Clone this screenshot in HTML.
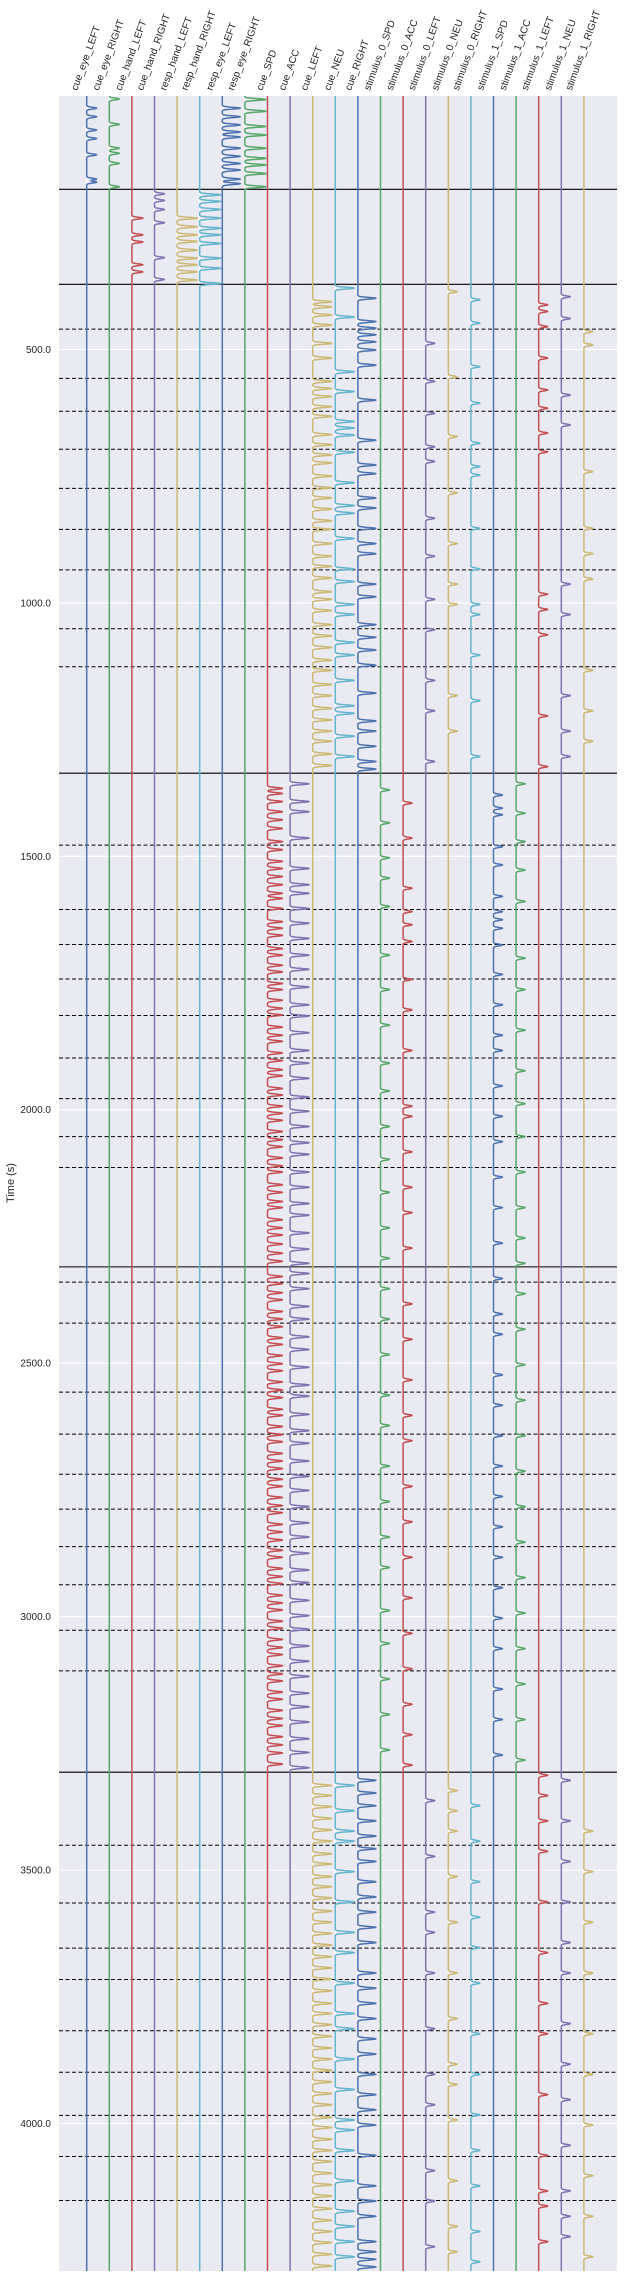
<!DOCTYPE html>
<html><head><meta charset="utf-8">
<style>
html,body{margin:0;padding:0;background:#fff;}
svg{display:block;font-family:"Liberation Sans",sans-serif;}
</style></head>
<body>
<svg id="chart" width="624" height="2278" viewBox="0 0 624 2278" xmlns="http://www.w3.org/2000/svg">
<rect x="59" y="96" width="558" height="2175" fill="#EAEAF2"/>
<g id="grid"></g>
<g id="hlines"></g>
<g id="traces"></g>
<g id="xlabels"></g>
<g id="ylabels"></g>
<text x="0" y="0" transform="translate(14,1183) rotate(-90)" text-anchor="middle" font-size="11" fill="#262626">Time (s)</text>
</svg>
<script>
const columns = ["cue_eye_LEFT","cue_eye_RIGHT","cue_hand_LEFT","cue_hand_RIGHT","resp_hand_LEFT","resp_hand_RIGHT","resp_eye_LEFT","resp_eye_RIGHT","cue_SPD","cue_ACC","cue_LEFT","cue_NEU","cue_RIGHT","stimulus_0_SPD","stimulus_0_ACC","stimulus_0_LEFT","stimulus_0_NEU","stimulus_0_RIGHT","stimulus_1_SPD","stimulus_1_ACC","stimulus_1_LEFT","stimulus_1_NEU","stimulus_1_RIGHT"];
const yTicks = [500,1000,1500,2000,2500,3000,3500,4000];
const blockBoundaries = [184,371.5,1336,2310,3307];
const runBoundaries = [460,557,622,697,774,855,935,1051,1126,1478,1605,1674,1742,1814,1898,1978,2053,2114,2340,2421,2557,2640,2719,2788,2862,2937,3027,3107,3451,3565,3654,3716,3817,3899,3984,4065,4152];
const amplitudes = [10,10,11,10,20,21,18,21,15,19,19,19,18,9,9,9,9,9,9,9,9,9,9];

const cue_eye_LEFT = [21,38,64,81,113,161,167];
const cue_eye_RIGHT = [3,53,100,110,130,176];
const cue_hand_LEFT = [238,271,285,330,344];
const cue_hand_RIGHT = [190,203,221,247,316,359];
const resp_hand_LEFT = [238,255,271,284,301,317,330,344,360];
const resp_hand_RIGHT = [192,205,221,238,258,271,288,317,337,367];
const resp_eye_LEFT = [21,38,54,68,78,100,116,130,143,161,170];
const resp_eye_RIGHT = [4,27,57,74,100,120,133,150,176];
const cue_SPD = [1363,1373,1389,1409,1425,1442,1468,1484,1507,1521,1537,1553,1570,1580,1600,1626,1639,1653,1679,1692,1712,1725,1748,1760,1781,1797,1810,1834,1850,1862,1885,1900,1918,1930,1955,1968,1990,2004,2018,2040,2056,2070,2092,2108,2120,2145,2160,2178,2190,2214,2230,2244,2262,2280,2296,2326,2340,2358,2372,2395,2410,2425,2447,2460,2482,2498,2512,2534,2550,2565,2588,2600,2622,2638,2652,2675,2690,2705,2726,2740,2762,2778,2792,2815,2830,2846,2866,2880,2902,2918,2932,2955,2970,2984,3006,3020,3042,3058,3072,3094,3110,3124,3146,3160,3182,3198,3212,3234,3250,3266,3288];
const cue_ACC = [1354,1389,1409,1461,1521,1553,1570,1600,1629,1659,1692,1720,1755,1790,1812,1845,1880,1905,1935,1972,2000,2030,2062,2085,2120,2150,2182,2205,2240,2272,2300,2320,2350,2385,2410,2445,2470,2505,2540,2562,2598,2630,2655,2690,2720,2748,2780,2812,2840,2872,2905,2930,2965,2995,3022,3055,3085,3115,3148,3175,3205,3238,3265,3295];
const cue_LEFT = [403,413,429,449,485,514,560,574,590,610,629,665,685,705,721,747,770,790,812,835,852,880,905,925,948,975,990,1012,1040,1062,1085,1110,1130,1158,1180,1205,1228,1250,1270,1295,1318,3330,3350,3372,3395,3418,3440,3465,3485,3510,3530,3552,3578,3600,3622,3645,3668,3690,3712,3735,3760,3780,3802,3825,3848,3870,3892,3915,3938,3960,3985,4005,4028,4050,4072,4095,4118,4140,4165,4188,4210,4232,4255,4278];
const cue_NEU = [376,433,541,580,639,652,666,700,760,805,820,870,930,955,1000,1020,1075,1100,1150,1200,1215,1260,1300,3330,3380,3420,3440,3500,3560,3620,3660,3720,3780,3810,3870,3930,3990,4010,4050,4110,4170,4200,4230,4260];
const cue_RIGHT = [396,442,455,468,482,498,528,597,676,725,742,790,810,850,880,900,960,985,1040,1065,1090,1120,1175,1230,1250,1280,1310,1325,3320,3345,3370,3400,3430,3455,3480,3520,3550,3580,3610,3640,3700,3730,3760,3790,3830,3860,3900,3940,3970,4000,4060,4120,4150,4180,4230,4250,4265,4280];
const stimulus_0_SPD = [1366,1431,1500,1540,1596,1692,1760,1830,1905,1960,2030,2095,2160,2230,2290,2350,2410,2480,2560,2620,2700,2770,2840,2900,2985,3050,3120,3190,3260];
const stimulus_0_ACC = [1392,1461,1560,1606,1632,1665,1740,1800,1880,1990,2010,2080,2150,2200,2270,2380,2450,2530,2600,2650,2740,2810,2880,2960,3030,3100,3170,3230,3290];
const stimulus_0_LEFT = [485,560,623,689,718,830,905,990,1050,1150,1210,1310,3360,3470,3580,3620,3700,3810,3900,3960,4090,4150,4240];
const stimulus_0_NEU = [383,551,669,780,880,960,1000,1180,1250,3340,3380,3420,3510,3600,3700,3790,3880,3920,3990,4110,4200,4250];
const stimulus_0_RIGHT = [399,445,531,603,682,728,745,850,930,1000,1020,1100,1190,1300,3370,3440,3520,3590,3650,3720,3820,3900,3980,4050,4120,4210,4270];
const stimulus_1_SPD = [1376,1402,1415,1478,1514,1576,1606,1622,1639,1672,1730,1790,1850,1880,1950,2010,2060,2130,2190,2260,2330,2400,2440,2520,2580,2640,2700,2760,2820,2880,2940,3000,3060,3140,3200,3270];
const stimulus_1_ACC = [1354,1412,1468,1524,1586,1698,1760,1840,1920,1985,2050,2120,2190,2250,2300,2360,2430,2500,2570,2640,2710,2780,2850,2920,2990,3060,3130,3200,3280];
const stimulus_1_LEFT = [409,422,452,514,577,613,662,699,980,1010,1060,1220,1320,3310,3350,3400,3460,3560,3660,3760,3820,3940,4060,4130,4160,4230];
const stimulus_1_NEU = [393,436,587,646,960,1020,1180,1250,1300,3320,3400,3480,3560,3640,3700,3800,3880,3950,4040,4130,4180,4220];
const stimulus_1_RIGHT = [462,488,738,850,900,950,1130,1210,1270,3420,3500,3600,3700,3820,3900,4000,4100,4180,4260];

const onsetLists = [cue_eye_LEFT,cue_eye_RIGHT,cue_hand_LEFT,cue_hand_RIGHT,resp_hand_LEFT,resp_hand_RIGHT,resp_eye_LEFT,resp_eye_RIGHT,cue_SPD,cue_ACC,cue_LEFT,cue_NEU,cue_RIGHT,stimulus_0_SPD,stimulus_0_ACC,stimulus_0_LEFT,stimulus_0_NEU,stimulus_0_RIGHT,stimulus_1_SPD,stimulus_1_ACC,stimulus_1_LEFT,stimulus_1_NEU,stimulus_1_RIGHT];

const NS = "http://www.w3.org/2000/svg";
const colors = ["#4C72B0","#55A868","#C44E52","#8172B2","#CCB974","#64B5CD"];
const plotTop = 96, plotBottom = 2271, plotLeft = 59, plotRight = 617;
const tMax = 4291;
function yScale(t){ return plotTop + t * (plotBottom - plotTop) / tMax; }
function xCol(i){ return 86.7 + i * 22.6; }
function mk(tag, attrs, parent){ const e = document.createElementNS(NS, tag); for (const k in attrs) e.setAttribute(k, attrs[k]); parent.appendChild(e); return e; }

const grid = document.getElementById('grid');
yTicks.forEach(v => {
  const l = mk('line', {x1:plotLeft, x2:plotRight, y1:yScale(v), y2:yScale(v), stroke:'#fff', 'stroke-width':1.2}, grid);
  
  
});
columns.forEach((c, i) => {
  const l = mk('line', {x1:xCol(i), x2:xCol(i), y1:plotTop, y2:plotBottom, stroke:'#fff', 'stroke-width':1.2}, grid);
  
  
});

const hl = document.getElementById('hlines');
runBoundaries.forEach(t => {
  const l = mk('line', {x1:plotLeft, x2:plotRight, y1:yScale(t), y2:yScale(t), stroke:'#000', 'stroke-width':1, 'stroke-dasharray':'4,2.5'}, hl);
  
  
});
blockBoundaries.forEach(t => {
  const l = mk('line', {x1:plotLeft, x2:plotRight, y1:yScale(t), y2:yScale(t), stroke:'#000', 'stroke-width':1.1}, hl);
  
  
});

const tr = document.getElementById('traces');
const SIG = 1.7;
onsetLists.forEach((ons, i) => {
  const amp = amplitudes[i], cx = xCol(i);
  let pts = [], prevZero = false;
  for (let t = 0; t <= tMax; t += 0.5) {
    let v = 0;
    for (const o of ons) { const u = t - o - 3; if (u > -8 && u < 8) v += Math.exp(-u*u/(2*SIG*SIG)); }
    const zero = v < 0.003;
    if (zero && prevZero && t < tMax) { pts[pts.length-1] = [cx, yScale(t)]; continue; }
    pts.push([cx + amp * Math.min(v, 1.2), yScale(t)]);
    if (zero && !prevZero) pts.push([cx, yScale(t)]);
    prevZero = zero;
  }
  const d = 'M' + pts.map(p => p[0].toFixed(1) + ',' + p[1].toFixed(1)).join('L');
  const p = mk('path', {d:d, fill:'none', stroke:colors[i % 6], 'stroke-width':1.5, 'stroke-linejoin':'round'}, tr);
  
  
});

const xl = document.getElementById('xlabels');
columns.forEach((c, i) => {
  const t = mk('text', {x:0, y:0, 'font-size':10, fill:'#262626'}, xl);
  t.textContent = c;
  
  
  const L = t.getComputedTextLength();
  const a = 70 * Math.PI / 180;
  const x0 = xCol(i) - L * Math.cos(a) / 2 + 2;
  const y0 = 91;
  t.setAttribute('transform', 'translate(' + x0.toFixed(1) + ',' + y0 + ') rotate(-70)');
});

const yl = document.getElementById('ylabels');
yTicks.forEach(v => {
  const t = mk('text', {x:51, y:yScale(v) + 3.5, 'text-anchor':'end', 'font-size':10, fill:'#262626'}, yl);
  t.textContent = v.toFixed(1);
  
  
});
</script>
</body></html>
